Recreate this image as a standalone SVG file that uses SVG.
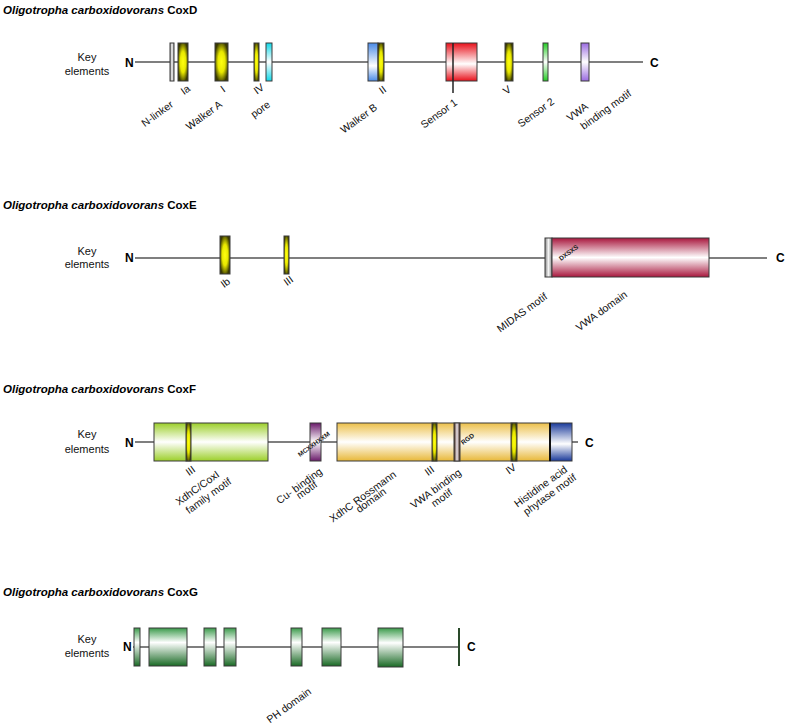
<svg xmlns="http://www.w3.org/2000/svg" width="787" height="725" viewBox="0 0 787 725">
<style>
.title{font-family:"Liberation Sans",Arial,sans-serif;font-size:11.5px;font-weight:bold;fill:#000}
.key{font-family:"Liberation Sans",Arial,sans-serif;font-size:11px;fill:#111;text-anchor:middle}
.term{font-family:"Liberation Sans",Arial,sans-serif;font-size:12px;font-weight:bold;fill:#000}
.lab{font-family:"Liberation Sans",Arial,sans-serif;font-size:10.5px;fill:#111;text-anchor:end}
.tiny{font-family:"Liberation Sans",Arial,sans-serif;font-size:6.5px;font-weight:bold;fill:#222}
.box{stroke:#3a3a3a;stroke-width:1}
.bb{stroke:#555;stroke-width:1.5;fill:none}
</style>
<defs>
<radialGradient id="gY" cx="0.5" cy="0.5" r="0.55"><stop offset="0" stop-color="#ffff10"/><stop offset="0.5" stop-color="#e8e800"/><stop offset="1" stop-color="#3a3a00"/></radialGradient>
<linearGradient id="gGray" x1="0" y1="0" x2="1" y2="0"><stop offset="0" stop-color="#888"/><stop offset="0.5" stop-color="#f4f4f4"/><stop offset="1" stop-color="#888"/></linearGradient>
<linearGradient id="gCyan" x1="0" y1="0" x2="0" y2="1"><stop offset="0" stop-color="#10d8e8"/><stop offset="0.5" stop-color="#fff"/><stop offset="1" stop-color="#10d8e8"/></linearGradient>
<linearGradient id="gBlue" x1="0" y1="0" x2="0" y2="1"><stop offset="0" stop-color="#4a8ae6"/><stop offset="0.6" stop-color="#fff"/><stop offset="1" stop-color="#4a8ae6"/></linearGradient>
<linearGradient id="gRed" x1="0" y1="0" x2="0" y2="1"><stop offset="0" stop-color="#e8101a"/><stop offset="0.55" stop-color="#fff"/><stop offset="1" stop-color="#e8101a"/></linearGradient>
<linearGradient id="gGreen" x1="0" y1="0" x2="0" y2="1"><stop offset="0" stop-color="#22cc22"/><stop offset="0.5" stop-color="#fff"/><stop offset="1" stop-color="#22cc22"/></linearGradient>
<linearGradient id="gPurple" x1="0" y1="0" x2="0" y2="1"><stop offset="0" stop-color="#9a6ae0"/><stop offset="0.5" stop-color="#fff"/><stop offset="1" stop-color="#9a6ae0"/></linearGradient>
<linearGradient id="gCrimson" x1="0" y1="0" x2="0" y2="1"><stop offset="0" stop-color="#a8173d"/><stop offset="0.5" stop-color="#fff"/><stop offset="1" stop-color="#a8173d"/></linearGradient>
<linearGradient id="gLime" x1="0" y1="0" x2="0" y2="1"><stop offset="0" stop-color="#9ccf2a"/><stop offset="0.5" stop-color="#fff"/><stop offset="1" stop-color="#9ccf2a"/></linearGradient>
<linearGradient id="gGold" x1="0" y1="0" x2="0" y2="1"><stop offset="0" stop-color="#ecc04a"/><stop offset="0.5" stop-color="#fff"/><stop offset="1" stop-color="#e8b838"/></linearGradient>
<linearGradient id="gNavy" x1="0" y1="0" x2="0" y2="1"><stop offset="0" stop-color="#1a3a9a"/><stop offset="0.55" stop-color="#fff"/><stop offset="1" stop-color="#1a3a9a"/></linearGradient>
<linearGradient id="gPlum" x1="0" y1="0" x2="0" y2="1"><stop offset="0" stop-color="#6a1a6a"/><stop offset="0.5" stop-color="#fff"/><stop offset="1" stop-color="#6a1a6a"/></linearGradient>
<linearGradient id="gBrown" x1="0" y1="0" x2="1" y2="0"><stop offset="0" stop-color="#3a2010"/><stop offset="0.5" stop-color="#f0e8f0"/><stop offset="1" stop-color="#3a2010"/></linearGradient>
<linearGradient id="gDG" x1="0" y1="0" x2="0" y2="1"><stop offset="0" stop-color="#3a9a4a"/><stop offset="0.38" stop-color="#fff"/><stop offset="1" stop-color="#1a6a25"/></linearGradient>
</defs>

<!-- connectors: protein backbones -->
<g id="connectors">
<line class="bb" x1="135" y1="62" x2="643" y2="62"/>
<line class="bb" x1="135" y1="258" x2="767" y2="258"/>
<line class="bb" x1="135" y1="442" x2="578" y2="442"/>
<line class="bb" x1="133" y1="647" x2="458" y2="647"/>
</g>

<!-- CoxD -->
<g id="coxd-header">
<text class="title" x="3" y="14"><tspan font-style="italic">Oligotropha carboxidovorans</tspan> CoxD</text>
<text class="key" x="87" y="61">Key</text>
<text class="key" x="87" y="75">elements</text>
<text class="term" x="125" y="66.5">N</text>
<text class="term" x="650" y="66.5">C</text>
</g>
<g id="coxd-nlinker"><rect class="box" x="170" y="43" width="4" height="38" fill="url(#gGray)"/><text class="lab" transform="rotate(-36 174 106)" x="174" y="106">N-linker</text></g>
<g id="coxd-Ia"><rect class="box" x="178" y="43" width="10" height="38" fill="url(#gY)"/><text class="lab" transform="rotate(-36 191 90)" x="191" y="90">Ia</text></g>
<g id="coxd-walkerA"><rect class="box" x="215" y="43" width="13" height="38" fill="url(#gY)"/><text class="lab" transform="rotate(-36 226 91)" x="226" y="91">I</text><text class="lab" transform="rotate(-36 223 106)" x="223" y="106">Walker A</text></g>
<g id="coxd-IV"><rect class="box" x="254" y="43" width="5" height="38" fill="url(#gY)"/><text class="lab" transform="rotate(-36 265 89)" x="265" y="89">IV</text></g>
<g id="coxd-pore"><rect class="box" x="266" y="43" width="6" height="38" fill="url(#gCyan)"/><text class="lab" transform="rotate(-36 271 106)" x="271" y="106">pore</text></g>
<g id="coxd-walkerB"><rect class="box" x="368" y="43" width="10" height="38" fill="url(#gBlue)"/><rect class="box" x="378" y="43" width="6" height="38" fill="url(#gY)"/><text class="lab" transform="rotate(-36 387 91)" x="387" y="91">II</text><text class="lab" transform="rotate(-36 378 109)" x="378" y="109">Walker B</text></g>
<g id="coxd-sensor1"><rect class="box" x="446" y="43" width="31" height="38" fill="url(#gRed)"/><line x1="453" y1="43" x2="453" y2="93" stroke="#222" stroke-width="1.5"/><text class="lab" transform="rotate(-36 458 104)" x="458" y="104">Sensor 1</text></g>
<g id="coxd-V"><rect class="box" x="505" y="43" width="8" height="38" fill="url(#gY)"/><text class="lab" transform="rotate(-36 512 91)" x="512" y="91">V</text></g>
<g id="coxd-sensor2"><rect class="box" x="543" y="43" width="5" height="38" fill="url(#gGreen)"/><text class="lab" transform="rotate(-36 555 103)" x="555" y="103">Sensor 2</text></g>
<g id="coxd-vwa"><rect class="box" x="581" y="43" width="8" height="38" fill="url(#gPurple)"/><text class="lab" transform="rotate(-36 589 108)" x="589" y="108">VWA</text><text class="lab" transform="rotate(-36 632 95)" x="632" y="95">binding motif</text></g>

<!-- CoxE -->
<g id="coxe-header">
<text class="title" x="3" y="209"><tspan font-style="italic">Oligotropha carboxidovorans</tspan> CoxE</text>
<text class="key" x="87" y="255">Key</text>
<text class="key" x="87" y="268">elements</text>
<text class="term" x="125" y="262">N</text>
<text class="term" x="776" y="262">C</text>
</g>
<g id="coxe-Ib"><rect class="box" x="220" y="236" width="10" height="38" fill="url(#gY)"/><text class="lab" transform="rotate(-36 231 283)" x="231" y="283">Ib</text></g>
<g id="coxe-III"><rect class="box" x="284" y="236" width="5" height="38" fill="url(#gY)"/><text class="lab" transform="rotate(-36 294 281)" x="294" y="281">III</text></g>
<g id="coxe-midas"><rect class="box" x="545" y="238" width="7" height="39" fill="url(#gGray)"/><text class="lab" transform="rotate(-36 548 298)" x="548" y="298">MIDAS motif</text></g>
<g id="coxe-vwa"><rect class="box" x="552" y="238" width="157" height="39" fill="url(#gCrimson)"/><text class="tiny" transform="rotate(-36 561 261)" x="561" y="261" font-size="6px">DXSXS</text><text class="lab" transform="rotate(-36 628 296)" x="628" y="296">VWA domain</text></g>

<!-- CoxF -->
<g id="coxf-header">
<text class="title" x="3" y="392.5"><tspan font-style="italic">Oligotropha carboxidovorans</tspan> CoxF</text>
<text class="key" x="87" y="438">Key</text>
<text class="key" x="87" y="453">elements</text>
<text class="term" x="125" y="446.5">N</text>
<text class="term" x="585" y="446.5">C</text>
</g>
<g id="coxf-xdhc"><rect class="box" x="154" y="423" width="114" height="38" fill="url(#gLime)"/><rect class="box" x="186" y="423" width="5" height="38" fill="url(#gY)"/><text class="lab" transform="rotate(-36 196 471)" x="196" y="471">III</text><text class="lab" transform="rotate(-36 220 476)" x="220" y="476">XdhC/CoxI</text><text class="lab" transform="rotate(-36 232 483)" x="232" y="483">family motif</text></g>
<g id="coxf-cu"><rect class="box" x="310" y="423" width="11" height="38" fill="url(#gPlum)"/><text class="tiny" transform="rotate(-36 300 457)" x="300" y="457">MCXXHXXM</text><text class="lab" transform="rotate(-36 323 473)" x="323" y="473">Cu- binding</text><text class="lab" transform="rotate(-36 318 486)" x="318" y="486">motif</text></g>
<g id="coxf-rossmann"><rect class="box" x="337" y="423" width="213" height="38" fill="url(#gGold)"/><text class="lab" transform="rotate(-36 397 476)" x="397" y="476">XdhC Rossmann</text><text class="lab" transform="rotate(-36 387 493)" x="387" y="493">domain</text></g>
<g id="coxf-III"><rect class="box" x="432" y="423" width="5" height="38" fill="url(#gY)"/><text class="lab" transform="rotate(-36 435 471)" x="435" y="471">III</text></g>
<g id="coxf-rgd"><rect class="box" x="454" y="423" width="6" height="38" fill="url(#gBrown)"/><text class="tiny" transform="rotate(-36 463 445)" x="463" y="445">RGD</text><text class="lab" transform="rotate(-36 462 474)" x="462" y="474">VWA  binding</text><text class="lab" transform="rotate(-36 453 494)" x="453" y="494">motif</text></g>
<g id="coxf-IV"><rect class="box" x="511" y="423" width="6" height="38" fill="url(#gY)"/><text class="lab" transform="rotate(-36 517 469)" x="517" y="469">IV</text></g>
<g id="coxf-phytase"><rect class="box" x="550" y="423" width="22" height="38" fill="url(#gNavy)"/><line x1="550" y1="423" x2="550" y2="461" stroke="#111" stroke-width="2"/><text class="lab" transform="rotate(-36 568 471)" x="568" y="471">Histidine acid</text><text class="lab" transform="rotate(-36 577 479)" x="577" y="479">phytase motif</text></g>

<!-- CoxG -->
<g id="coxg-header">
<text class="title" x="3" y="596"><tspan font-style="italic">Oligotropha carboxidovorans</tspan> CoxG</text>
<text class="key" x="87" y="643">Key</text>
<text class="key" x="87" y="657">elements</text>
<text class="term" x="123" y="651">N</text>
<text class="term" x="467" y="651">C</text>
</g>
<g id="coxg-b1"><rect class="box" x="134" y="628" width="6" height="38" fill="url(#gDG)"/></g>
<g id="coxg-b2"><rect class="box" x="149" y="628" width="38" height="38" fill="url(#gDG)"/></g>
<g id="coxg-b3"><rect class="box" x="204" y="628" width="12" height="38" fill="url(#gDG)"/></g>
<g id="coxg-b4"><rect class="box" x="224" y="628" width="12" height="38" fill="url(#gDG)"/></g>
<g id="coxg-b5"><rect class="box" x="291" y="628" width="11" height="38" fill="url(#gDG)"/><text class="lab" transform="rotate(-36 312 693)" x="312" y="693">PH  domain</text></g>
<g id="coxg-b6"><rect class="box" x="322" y="628" width="19" height="38" fill="url(#gDG)"/></g>
<g id="coxg-b7"><rect class="box" x="378" y="628" width="25" height="39" fill="url(#gDG)"/></g>
<g id="coxg-end"><rect x="458" y="628" width="2" height="38" fill="#2a4a2a"/></g>
</svg>
